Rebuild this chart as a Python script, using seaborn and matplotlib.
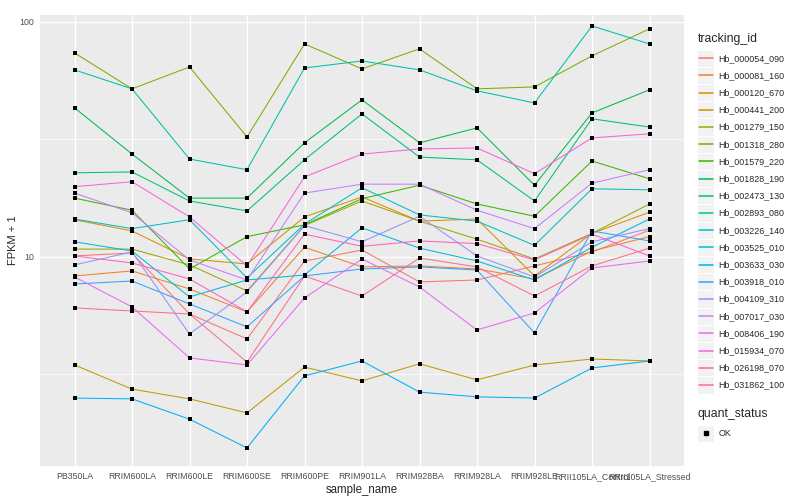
import matplotlib
matplotlib.use("Agg")
import matplotlib.pyplot as plt
from matplotlib.lines import Line2D
from matplotlib.patches import Rectangle
from matplotlib.legend_handler import HandlerBase
from matplotlib.ticker import FixedLocator, NullFormatter
import numpy as np
import pandas as pd
import seaborn as sns

samples = ["PB350LA", "RRIM600LA", "RRIM600LE", "RRIM600SE", "RRIM600PE", "RRIM901LA",
           "RRIM928BA", "RRIM928LA", "RRIM928LE", "RRII105LA_Control", "RRII105LA_Stressed"]

tracking_ids = ["Hb_000054_090", "Hb_000081_160", "Hb_000120_670", "Hb_000441_200",
                "Hb_001279_150", "Hb_001318_280", "Hb_001579_220", "Hb_001828_190",
                "Hb_002473_130", "Hb_002893_080", "Hb_003226_140", "Hb_003525_010",
                "Hb_003633_030", "Hb_003918_010", "Hb_004109_310", "Hb_007017_030",
                "Hb_008406_190", "Hb_015934_070", "Hb_026198_070", "Hb_031862_100"]

# ggplot default hue palette, 20 levels
palette = ["#F8766D", "#EA8331", "#D89000", "#C09B00", "#A3A500", "#7CAE00", "#39B600",
           "#00BB4E", "#00BF7D", "#00C1A3", "#00BFC4", "#00BAE0", "#00B0F6", "#35A2FF",
           "#9590FF", "#C77CFF", "#E76BF3", "#FA62DB", "#FF62BC", "#FF6C91"]

# FPKM + 1, one list per gene, in sample order
hb_000054_090 = [10.1, 10.4, 5.72, 4.48, 9.61, 10.7, 7.83, 7.98, 9.16, 10.5, 13.0]
hb_000081_160 = [8.30, 8.72, 7.31, 5.84, 11.0, 9.07, 9.16, 8.89, 8.06, 10.6, 12.2]
hb_000120_670 = [14.4, 12.9, 9.80, 9.34, 14.8, 18.0, 14.2, 14.5, 8.30, 12.6, 15.5]
hb_000441_200 = [3.47, 2.74, 2.49, 2.17, 3.40, 2.97, 3.51, 3.00, 3.47, 3.68, 3.61]
hb_001279_150 = [10.8, 10.8, 9.25, 7.17, 13.6, 17.3, 14.2, 11.9, 9.80, 12.6, 16.8]
hb_001318_280 = [73.8, 51.9, 64.3, 32.4, 80.6, 63.1, 76.8, 51.9, 52.9, 71.7, 93.4]
hb_001579_220 = [17.8, 15.8, 8.89, 12.2, 13.7, 17.7, 20.2, 16.8, 14.9, 25.6, 21.5]
hb_001828_190 = [43.1, 27.4, 17.8, 17.8, 30.6, 46.6, 30.6, 35.4, 20.2, 41.0, 51.4]
hb_002473_130 = [22.8, 23.0, 17.3, 15.7, 25.9, 40.6, 26.6, 25.9, 17.3, 38.7, 35.7]
hb_002893_080 = [62.5, 51.9, 26.1, 23.5, 63.7, 68.2, 62.5, 50.9, 45.2, 96.1, 80.6]
hb_003226_140 = [14.5, 13.2, 14.4, 8.14, 13.8, 19.7, 15.1, 14.2, 11.2, 19.5, 19.3]
hb_003525_010 = [11.6, 10.6, 6.76, 7.98, 8.38, 13.3, 10.9, 9.61, 7.98, 11.0, 14.5]
hb_003633_030 = [2.51, 2.49, 2.04, 1.54, 3.12, 3.61, 2.66, 2.54, 2.51, 3.37, 3.61]
hb_003918_010 = [7.67, 7.90, 6.31, 5.04, 8.30, 8.89, 9.07, 8.80, 4.75, 12.9, 11.7]
hb_004109_310 = [9.25, 10.5, 4.70, 7.10, 13.6, 11.6, 14.9, 10.1, 8.22, 11.6, 13.2]
hb_007017_030 = [18.7, 15.4, 9.71, 7.98, 18.7, 20.4, 20.4, 15.8, 13.2, 20.6, 23.5]
hb_008406_190 = [8.22, 6.13, 3.72, 3.47, 6.69, 9.80, 7.45, 4.89, 5.78, 8.98, 9.61]
hb_015934_070 = [19.9, 20.9, 14.8, 9.16, 21.9, 27.4, 28.8, 29.1, 22.6, 32.1, 33.4]
hb_026198_070 = [10.1, 9.43, 8.06, 5.84, 12.5, 11.1, 11.7, 11.4, 9.71, 12.5, 10.1]
hb_031862_100 = [6.07, 5.89, 5.72, 3.57, 8.30, 6.82, 9.90, 9.07, 6.82, 9.16, 10.9]

series = [hb_000054_090, hb_000081_160, hb_000120_670, hb_000441_200, hb_001279_150,
          hb_001318_280, hb_001579_220, hb_001828_190, hb_002473_130, hb_002893_080,
          hb_003226_140, hb_003525_010, hb_003633_030, hb_003918_010, hb_004109_310,
          hb_007017_030, hb_008406_190, hb_015934_070, hb_026198_070, hb_031862_100]

rows = []
for tid, vals in zip(tracking_ids, series):
    for s, v in zip(samples, vals):
        rows.append({"tracking_id": tid, "sample_name": s, "fpkm": v, "quant_status": "OK"})
df = pd.DataFrame(rows)

sns.set_style("white")
plt.rcParams["font.family"] = ["Liberation Sans", "DejaVu Sans"]

fig = plt.figure(figsize=(8, 5), dpi=100)
ax = fig.add_axes([40 / 800, 1 - 466 / 500, 644 / 800, 451 / 500])
ax.set_facecolor("#EBEBEB")

sns.lineplot(data=df, x="sample_name", y="fpkm", hue="tracking_id", hue_order=tracking_ids,
             palette=palette, sort=False, estimator=None, linewidth=0.75, legend=False, ax=ax)
sns.scatterplot(data=df, x="sample_name", y="fpkm", color="black", marker="s", s=7,
                linewidth=0, legend=False, ax=ax, zorder=5)

ax.set_yscale("log")
ax.set_ylim(1.29, 107)
ax.set_xlim(-0.6, 10.6)
ax.set_yticks([10, 100])
ax.set_yticklabels(["10", "100"])
ax.yaxis.set_minor_locator(FixedLocator([10 ** 0.5, 10 ** 1.5]))
ax.yaxis.set_minor_formatter(NullFormatter())
ax.set_xticks(range(len(samples)))
ax.set_xticklabels(samples)

ax.grid(True, which="major", color="white", linewidth=1.0)
ax.grid(True, which="minor", axis="y", color="white", linewidth=0.5)
ax.set_axisbelow(True)
for sp in ax.spines.values():
    sp.set_visible(False)
ax.tick_params(axis="both", which="major", length=2.5, width=0.6, color="#333333",
               labelsize=6.3, labelcolor="#4D4D4D", pad=2)
ax.tick_params(axis="y", which="minor", length=0)
ax.set_xlabel("sample_name", fontsize=8.3, labelpad=2)
ax.set_ylabel("FPKM + 1", fontsize=8.0, labelpad=1)


class KeyBox(HandlerBase):
    def create_artists(self, legend, orig, xd, yd, w, h, fs, trans):
        bg = Rectangle((-xd, -yd), w, h, facecolor="#F2F2F2", edgecolor="white",
                       linewidth=0.8, transform=trans)
        if orig.get_marker() == "s":
            mk = Line2D([-xd + w / 2], [-yd + h / 2], marker="s", markersize=2.6,
                        color="black", linestyle="none", transform=trans)
        else:
            mk = Line2D([-xd + 0.1 * w, -xd + 0.9 * w], [-yd + h / 2] * 2,
                        color=orig.get_color(), linewidth=1.1, transform=trans)
        return [bg, mk]


legend_kw = dict(loc="upper left", frameon=False, fontsize=6.4, title_fontsize=8.8,
                 handler_map={Line2D: KeyBox()}, handlelength=1.9, handleheight=2.6,
                 labelspacing=0.0, handletextpad=0.45, borderpad=0, alignment="left")

id_handles = [Line2D([], [], color=c) for c in palette]
leg1 = fig.legend(id_handles, tracking_ids, title="tracking_id",
                  bbox_to_anchor=(693 / 800, 1 - 29 / 500), **legend_kw)
leg1._legend_box.sep = 3

ok_handle = [Line2D([], [], marker="s", color="black", linestyle="none")]
leg2 = fig.legend(ok_handle, ["OK"], title="quant_status",
                  bbox_to_anchor=(693 / 800, 1 - 404 / 500), **legend_kw)
leg2._legend_box.sep = 3

fig.savefig("out.png", dpi=100, facecolor="white")
